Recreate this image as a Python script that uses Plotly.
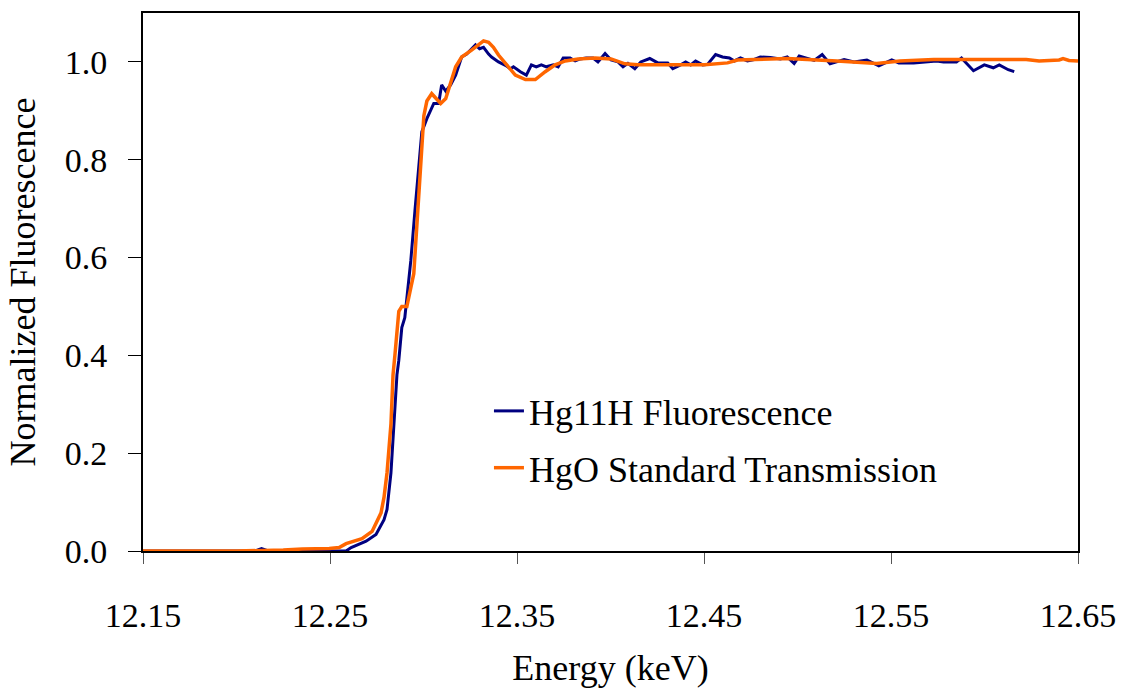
import plotly.graph_objects as go

# Hg L3-edge XANES: Hg11H sample fluorescence vs. HgO standard in transmission
energy_std = [12.1500, 12.2000, 12.2250, 12.2352, 12.2496, 12.2549, 12.2586, 12.2671,
              12.2725, 12.2773, 12.2789, 12.2805, 12.2826, 12.2837, 12.2847, 12.2868,
              12.2884, 12.2911, 12.2948, 12.2964, 12.2986, 12.3002, 12.3018, 12.3044,
              12.3092, 12.3119, 12.3172, 12.3204, 12.3257, 12.3300, 12.3321, 12.3348,
              12.3374, 12.3401, 12.3454, 12.3491, 12.3545, 12.3598, 12.3651, 12.3704,
              12.3758, 12.3827, 12.3917, 12.4003, 12.4077, 12.4146, 12.4503, 12.4626,
              12.4679, 12.4801, 12.4945, 12.5211, 12.5424, 12.5547, 12.5728, 12.6223,
              12.6292, 12.6399, 12.6420, 12.6452, 12.6500]
norm_std = [0.000, 0.000, 0.002, 0.004, 0.005, 0.007, 0.015, 0.025,
            0.040, 0.078, 0.110, 0.160, 0.260, 0.360, 0.400, 0.490,
            0.500, 0.500, 0.567, 0.660, 0.800, 0.890, 0.920, 0.935,
            0.915, 0.925, 0.990, 1.010, 1.024, 1.038, 1.043, 1.040,
            1.030, 1.014, 0.990, 0.973, 0.964, 0.964, 0.980, 0.994,
            1.002, 1.006, 1.008, 1.006, 0.996, 0.994, 0.994, 0.998,
            1.004, 1.005, 1.007, 1.002, 0.997, 1.002, 1.005, 1.005,
            1.002, 1.004, 1.007, 1.003, 1.002]

energy_fl = [12.1500, 12.1920, 12.2100, 12.2134, 12.2170, 12.2549, 12.2586, 12.2613,
             12.2655, 12.2693, 12.2746, 12.2789, 12.2805, 12.2826, 12.2842, 12.2858,
             12.2868, 12.2884, 12.2900, 12.2906, 12.2932, 12.2954, 12.2975, 12.2991,
             12.3018, 12.3055, 12.3081, 12.3097, 12.3119, 12.3145, 12.3172, 12.3204,
             12.3231, 12.3252, 12.3278, 12.3300, 12.3321, 12.3348, 12.3364, 12.3401,
             12.3438, 12.3465, 12.3481, 12.3518, 12.3550, 12.3577, 12.3603, 12.3630,
             12.3657, 12.3694, 12.3720, 12.3747, 12.3784, 12.3811, 12.3838, 12.3870,
             12.3907, 12.3933, 12.3971, 12.4003, 12.4040, 12.4067, 12.4093, 12.4130,
             12.4162, 12.4210, 12.4253, 12.4306, 12.4333, 12.4375, 12.4402, 12.4429,
             12.4455, 12.4493, 12.4519, 12.4562, 12.4599, 12.4636, 12.4663, 12.4695,
             12.4732, 12.4769, 12.4801, 12.4855, 12.4908, 12.4945, 12.4982, 12.5009,
             12.5052, 12.5089, 12.5132, 12.5174, 12.5249, 12.5302, 12.5371, 12.5435,
             12.5504, 12.5542, 12.5621, 12.5691, 12.5744, 12.5781, 12.5850, 12.5877,
             12.5941, 12.5999, 12.6047, 12.6079, 12.6127, 12.6159]
norm_fl = [0.000, 0.001, 0.000, 0.005, 0.000, 0.000, 0.000, 0.007,
           0.013, 0.020, 0.034, 0.064, 0.085, 0.160, 0.260, 0.360,
           0.390, 0.457, 0.477, 0.500, 0.593, 0.695, 0.790, 0.857,
           0.884, 0.915, 0.915, 0.953, 0.940, 0.953, 0.973, 1.010,
           1.016, 1.024, 1.035, 1.027, 1.030, 1.016, 1.010, 1.000,
           0.993, 0.986, 0.990, 0.980, 0.973, 0.994, 0.990, 0.994,
           0.990, 0.994, 0.990, 1.008, 1.008, 1.002, 1.006, 1.008,
           1.008, 1.000, 1.017, 1.004, 1.000, 0.990, 0.997, 0.986,
           1.000, 1.007, 0.998, 0.998, 0.986, 0.994, 1.000, 0.994,
           1.002, 0.994, 0.995, 1.015, 1.010, 1.008, 1.002, 1.008,
           1.002, 1.005, 1.010, 1.009, 1.006, 1.010, 0.997, 1.012,
           1.008, 1.003, 1.015, 0.996, 1.005, 1.000, 1.004, 0.992,
           1.004, 0.998, 0.998, 1.001, 1.002, 1.000, 1.000, 1.008,
           0.982, 0.994, 0.988, 0.994, 0.984, 0.980]

x_ticks = [12.15, 12.25, 12.35, 12.45, 12.55, 12.65]
y_ticks = [0.0, 0.2, 0.4, 0.6, 0.8, 1.0]

FONT = "'Times New Roman', 'Liberation Serif', 'DejaVu Serif', serif"

fig = go.Figure()
fig.add_trace(go.Scatter(
    x=energy_fl, y=norm_fl, mode="lines", name="Hg11H Fluorescence",
    line=dict(color="#000080", width=3), legendgroup="a"))
fig.add_trace(go.Scatter(
    x=energy_std, y=norm_std, mode="lines", name="HgO Standard Transmission",
    line=dict(color="#FF6600", width=3.5), legendgroup="b"))

fig.update_layout(
    width=1127, height=696,
    margin=dict(l=143, r=45, t=11, b=145),
    paper_bgcolor="white", plot_bgcolor="white",
    font=dict(family=FONT, size=34, color="black"),
    showlegend=True,
    legend=dict(x=0.37, y=0.316, xanchor="left", yanchor="top",
                bgcolor="rgba(0,0,0,0)", font=dict(family=FONT, size=36),
                traceorder="grouped", tracegroupgap=7),
    xaxis=dict(range=[12.15, 12.65], tickvals=x_ticks,
               ticktext=[f"{v:.2f}" for v in x_ticks],
               tickfont=dict(family=FONT, size=34),
               ticks="outside", ticklen=11, tickwidth=1, tickcolor="#555",
               showline=True, linecolor="black", linewidth=2, mirror=True,
               showgrid=False, zeroline=False, ticklabelstandoff=22,
               title=dict(text="Energy (keV)", font=dict(family=FONT, size=36), standoff=22)),
    yaxis=dict(range=[0, 1.1], tickvals=y_ticks,
               ticktext=[f"{v:.1f}" for v in y_ticks],
               tickfont=dict(family=FONT, size=34),
               ticks="outside", ticklen=13, tickwidth=1, tickcolor="black",
               showline=True, linecolor="black", linewidth=2, mirror=True,
               showgrid=False, zeroline=False, ticklabelstandoff=14,
               title=dict(text="Normalized Fluorescence", font=dict(family=FONT, size=36), standoff=18)),
)

fig.write_html("out.html")
